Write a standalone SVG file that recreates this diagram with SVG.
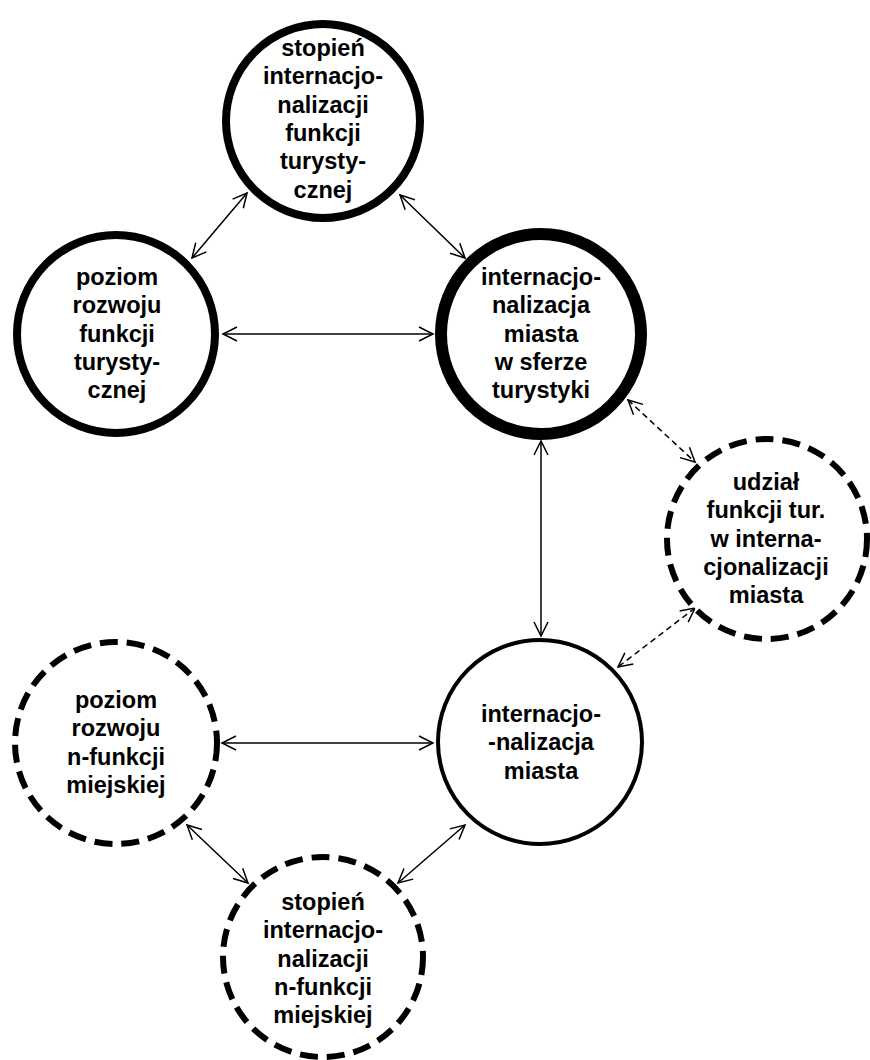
<svg xmlns="http://www.w3.org/2000/svg" width="870" height="1060" viewBox="0 0 870 1060">
<style>
.bg{fill:#fff}
.c{fill:#fff;stroke:#000}
.thick{stroke-width:8}
.xthick{stroke-width:12}
.thin{stroke-width:4}
.dash{stroke-width:6;stroke-dasharray:18 9}
.t{font-family:"Liberation Sans",Arial,sans-serif;font-weight:bold;font-size:23.5px;text-anchor:middle;fill:#000}
.con{stroke:#000;stroke-width:1.5;fill:none;marker-start:url(#ah);marker-end:url(#ah)}
.dcon{stroke-dasharray:6 4}
</style>
<defs>
<marker id="ah" markerUnits="userSpaceOnUse" markerWidth="18" markerHeight="18" refX="15" refY="8" orient="auto-start-reverse" viewBox="0 0 18 16">
<path d="M1,1 L15,8 L1,15" fill="none" stroke="#000" stroke-width="1.5"/>
</marker>
</defs>
<rect class="bg" x="0" y="0" width="870" height="1060"/>
<g id="connectors">
<line class="con" x1="247" y1="193" x2="192" y2="258"/>
<line class="con" x1="400" y1="195" x2="465" y2="258"/>
<line class="con" x1="223" y1="334" x2="433" y2="334"/>
<line class="con" x1="541" y1="441" x2="541" y2="636"/>
<line class="con dcon" x1="628" y1="400" x2="695" y2="462"/>
<line class="con dcon" x1="695" y1="608" x2="618" y2="667"/>
<line class="con" x1="222" y1="743" x2="433" y2="743"/>
<line class="con" x1="187" y1="825" x2="248" y2="883"/>
<line class="con" x1="465" y1="825" x2="398" y2="883"/>
</g>
<g id="n1">
<circle class="c thick" cx="323" cy="121" r="97"/>
<text class="t" x="323" y="56">stopień</text>
<text class="t" x="323" y="84.3">internacjo-</text>
<text class="t" x="323" y="112.6">nalizacji</text>
<text class="t" x="323" y="140.9">funkcji</text>
<text class="t" x="323" y="169.2">turysty-</text>
<text class="t" x="323" y="197.5">cznej</text>
</g>
<g id="n2">
<circle class="c thick" cx="116" cy="334" r="99"/>
<text class="t" x="117" y="285">poziom</text>
<text class="t" x="117" y="313.3">rozwoju</text>
<text class="t" x="117" y="341.6">funkcji</text>
<text class="t" x="117" y="369.9">turysty-</text>
<text class="t" x="117" y="398.2">cznej</text>
</g>
<g id="n3">
<circle class="c xthick" cx="541" cy="334" r="100"/>
<text class="t" x="541" y="285">internacjo-</text>
<text class="t" x="541" y="313.3">nalizacja</text>
<text class="t" x="541" y="341.6">miasta</text>
<text class="t" x="541" y="369.9">w sferze</text>
<text class="t" x="541" y="398.2">turystyki</text>
</g>
<g id="n4">
<circle class="c dash" cx="767" cy="539" r="100"/>
<text class="t" x="766" y="490">udział</text>
<text class="t" x="766" y="518.3">funkcji tur.</text>
<text class="t" x="766" y="546.6">w interna-</text>
<text class="t" x="766" y="574.9">cjonalizacji</text>
<text class="t" x="766" y="603.2">miasta</text>
</g>
<g id="n5">
<circle class="c thin" cx="540" cy="742" r="102"/>
<text class="t" x="541" y="722">internacjo-</text>
<text class="t" x="541" y="750.3">-nalizacja</text>
<text class="t" x="541" y="778.6">miasta</text>
</g>
<g id="n6">
<circle class="c dash" cx="116" cy="743" r="101"/>
<text class="t" x="116" y="708">poziom</text>
<text class="t" x="116" y="736.3">rozwoju</text>
<text class="t" x="116" y="764.6">n-funkcji</text>
<text class="t" x="116" y="792.9">miejskiej</text>
</g>
<g id="n7">
<circle class="c dash" cx="323" cy="957" r="100"/>
<text class="t" x="323" y="910">stopień</text>
<text class="t" x="323" y="938.3">internacjo-</text>
<text class="t" x="323" y="966.6">nalizacji</text>
<text class="t" x="323" y="994.9">n-funkcji</text>
<text class="t" x="323" y="1023.2">miejskiej</text>
</g>
</svg>
